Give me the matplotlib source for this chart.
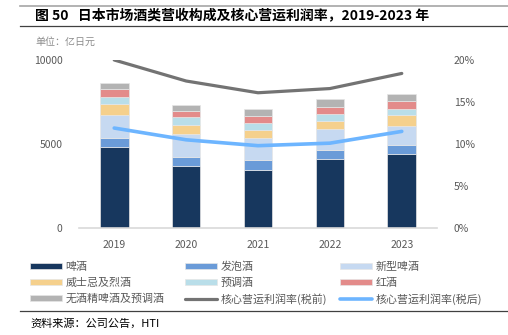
import matplotlib
matplotlib.use("Agg")
import matplotlib.pyplot as plt
from matplotlib.lines import Line2D
import numpy as np

plt.rcParams['font.family'] = ['Noto Sans CJK SC', 'DejaVu Sans']

years = ['2019', '2020', '2021', '2022', '2023']
beer      = [4850, 3690, 3470, 4120, 4400]
sparkling = [535, 535, 555, 535, 555]
new_beer  = [1350, 1390, 1330, 1210, 1090]
whisky    = [635, 515, 495, 515, 655]
rtd       = [435, 475, 375, 435, 355]
wine      = [460, 375, 415, 415, 475]
nonalc    = [355, 315, 455, 435, 435]
margin_pre  = [20.0, 17.5, 16.1, 16.6, 18.4]
margin_post = [11.9, 10.5, 9.8, 10.1, 11.5]

series = [
    ('啤酒', beer, '#17375E'),
    ('发泡酒', sparkling, '#6A9BD8'),
    ('新型啤酒', new_beer, '#C6D9F1'),
    ('威士忌及烈酒', whisky, '#F5D08C'),
    ('预调酒', rtd, '#B9DEE9'),
    ('红酒', wine, '#E38B8A'),
    ('无酒精啤酒及预调酒', nonalc, '#B3B3B3'),
]

W, H = 508, 335
fig = plt.figure(figsize=(W / 100, H / 100), dpi=100)
ax = fig.add_axes([79 / W, 1 - 228 / H, (437 - 79) / W, (228 - 60) / H])
ax2 = ax.twinx()

x = np.arange(len(years))
bottom = np.zeros(len(years))
bars = []
for name, vals, col in series:
    b = ax.bar(x, vals, 0.40, bottom=bottom, color=col, label=name,
               edgecolor='#E6E6E6', linewidth=0.5, zorder=2)
    bars.append(b)
    bottom += np.array(vals)

l1, = ax2.plot(x, margin_pre, color='#737373', lw=2.3, label='核心营运利润率(税前)',
               solid_capstyle='round', zorder=3)
l2, = ax2.plot(x, margin_post, color='#6DB5FF', lw=2.6, label='核心营运利润率(税后)',
               solid_capstyle='round', zorder=3)

ax.set_xlim(-0.49, 4.49)
ax.set_ylim(0, 10000)
ax.set_yticks([0, 5000, 10000])
ax2.set_ylim(0, 20)
ax2.set_yticks([0, 5, 10, 15, 20])
ax2.set_yticklabels(['0%', '5%', '10%', '15%', '20%'])
ax.set_xticks(x)
ax.set_xticklabels(years)

for a in (ax, ax2):
    for s in a.spines.values():
        s.set_visible(False)
    a.tick_params(length=0, colors='#595959', labelsize=7.5)
    a.set_facecolor('none')
ax.spines['bottom'].set_visible(True)
ax.spines['bottom'].set_color('#D9D9D9')
ax.spines['bottom'].set_linewidth(1.2)
ax.tick_params(axis='y', pad=12)
ax2.tick_params(axis='y', pad=12)
ax.tick_params(axis='x', pad=9)
ax.set_zorder(ax2.get_zorder() - 1)
ax.patch.set_visible(False)

# title and rules
fig.add_artist(Line2D([20 / W, 1], [1 - 6 / H] * 2, color='#A6A6A6', lw=1.2))
fig.add_artist(Line2D([20 / W, 1], [1 - 25.5 / H] * 2, color='#404040', lw=0.9))
fig.add_artist(Line2D([20 / W, 1], [1 - 311 / H] * 2, color='#404040', lw=0.9))
fig.text(35 / W, 1 - 16 / H, '图 50   日本市场酒类营收构成及核心营运利润率，2019-2023 年',
         fontsize=10.0, fontweight='bold', va='center', ha='left', color='#000000')
fig.text(35 / W, 1 - 42 / H, '单位：亿日元', fontsize=7.2, color='#8C8C8C',
         va='center', ha='left')
fig.text(30 / W, 1 - 323 / H, '资料来源：公司公告，HTI', fontsize=8.0, color='#000000',
         va='center', ha='left')

# legend: three columns placed manually
cols = [
    [bars[0], bars[3], bars[6]],
    [bars[1], bars[4], l1],
    [bars[2], bars[5], l2],
]
col_x = [30, 185, 340]
for handles, cx in zip(cols, col_x):
    labels = [h.get_label() for h in handles]
    leg = fig.legend(handles, labels, loc='upper left',
                     bbox_to_anchor=(cx / W, 1 - 261.5 / H), frameon=False,
                     fontsize=7.9, handlelength=2.95, handleheight=0.5,
                     handletextpad=0.3, labelspacing=0.5, borderpad=0,
                     borderaxespad=0)
    for t in leg.get_texts():
        t.set_color('#595959')

fig.savefig('out.png', dpi=100)
